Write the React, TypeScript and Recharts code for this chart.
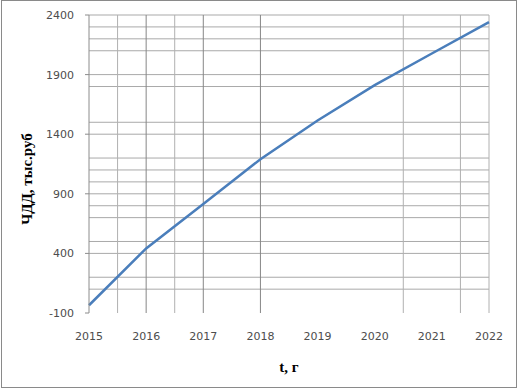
import { LineChart, Line, XAxis, YAxis, CartesianGrid, Label } from "recharts";

const years = [2015, 2016, 2017, 2018, 2019, 2020, 2021, 2022];
const npv = [-35, 442, 815, 1190, 1515, 1812, 2077, 2340];
const yTicks = [-100, 400, 900, 1400, 1900, 2400];
const hLines = [100, 200, 400, 500, 700, 800, 900, 1000, 1100, 1200, 1400, 1500, 1800, 1900, 2100, 2200, 2300, 2400];
const vLinesDark = [2016, 2017, 2018];
const vLinesLight = [2015.5, 2016.5, 2020.5, 2021.5, 2022];

const data = years.map((t, i) => ({ t, v: npv[i] }));

const tickStyle = { fontFamily: "DejaVu Sans", fontSize: 11, fill: "#4d4d4d" };

export default function App() {
  return (
    <div style={{ position: "absolute", left: 0, top: 0, width: 518, height: 388, background: "#fff" }}>
      <div
        style={{
          position: "absolute",
          left: 1,
          top: 0,
          width: 516,
          height: 388,
          border: "1px solid #8a8a8a",
          boxSizing: "border-box",
        }}
      />
      <LineChart width={518} height={388} data={data} margin={{ top: 15, right: 29, left: 0, bottom: 0 }}>
        <CartesianGrid vertical={false} horizontalValues={hLines} stroke="#a9a9a9" strokeWidth={1} />
        <CartesianGrid horizontal={false} verticalValues={vLinesLight} stroke="#b0b0b0" strokeWidth={1} />
        <CartesianGrid horizontal={false} verticalValues={vLinesDark} stroke="#868686" strokeWidth={1} />
        <XAxis
          dataKey="t"
          type="number"
          domain={[2015, 2022]}
          ticks={years}
          axisLine={false}
          tickLine={false}
          tickSize={0}
          tickMargin={19}
          height={75}
          tick={tickStyle}
          interval={0}
        >
          <Label
            content={() => (
              <text x={289} y={372} textAnchor="middle" fontFamily="Liberation Serif" fontWeight="bold" fontSize={15} fill="#000">
                t, г
              </text>
            )}
          />
        </XAxis>
        <YAxis
          type="number"
          domain={[-100, 2400]}
          ticks={yTicks}
          width={89}
          axisLine={{ stroke: "#8c8c8c" }}
          tickLine={{ stroke: "#8c8c8c" }}
          tickSize={4}
          tickMargin={11}
          tick={tickStyle}
          interval={0}
        >
          <Label
            content={() => (
              <text
                x={32}
                y={179}
                transform="rotate(-90 32 179)"
                textAnchor="middle"
                fontFamily="Liberation Serif"
                fontWeight="bold"
                fontSize={15}
                fill="#000"
              >
                ЧДД, тыс.руб
              </text>
            )}
          />
        </YAxis>
        <Line type="linear" dataKey="v" stroke="#4a7ebb" strokeWidth={2.5} dot={false} isAnimationActive={false} />
      </LineChart>
    </div>
  );
}
